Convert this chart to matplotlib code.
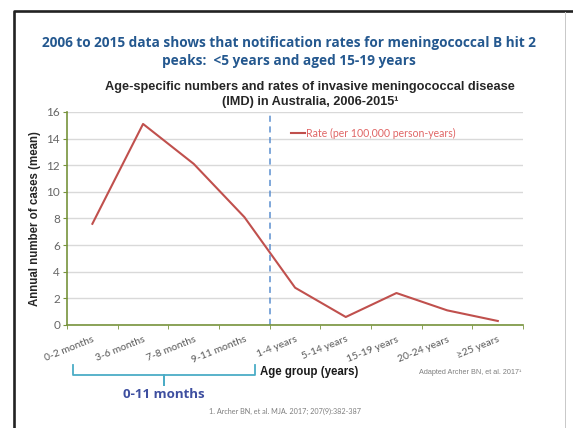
import matplotlib
matplotlib.use("Agg")
import matplotlib.pyplot as plt
import numpy as np
from matplotlib.lines import Line2D

# mean annual cases by age group
age_groups = ["0-2 months", "3-6 months", "7-8 months", "9-11 months", "1-4 years",
              "5-14 years", "15-19 years", "20-24 years", "\u226525 years"]
rate = [7.6, 15.1, 12.1, 8.1, 2.8, 0.6, 2.4, 1.1, 0.3]
y_ticks = [0, 2, 4, 6, 8, 10, 12, 14, 16]

red = "#C0504D"
olive = "#77933C"
grey = "#595959"

fig = plt.figure(figsize=(5.73, 4.28), dpi=100)
ax = fig.add_axes([0.117, 0.2407, 0.796, 0.4977])

x = np.arange(len(age_groups))
ax.plot(x, rate, color=red, lw=1.5, label="Rate (per 100,000 person-years)")
ax.axvline(3.5, color="#5B8FD0", lw=1.1, ls=(0, (4, 3)))

ax.set_xlim(-0.5, len(age_groups) - 0.5)
ax.set_ylim(0, 16)
ax.set_yticks(y_ticks)
ax.yaxis.grid(True, color="#D9D9D9", lw=1)
ax.set_axisbelow(True)
ax.set_xticks(x)
ax.set_xticks(np.arange(-0.5, len(age_groups)), minor=True)
ax.set_xticklabels(age_groups, rotation=22, ha="right", rotation_mode="anchor",
                   fontsize=7.5, color=grey, family="Lato")
ax.tick_params(axis="x", which="major", length=0, pad=7)
ax.tick_params(axis="x", which="minor", length=3, color=olive)
ax.tick_params(axis="y", length=3, color=olive, labelsize=8.5, labelcolor="#666666", pad=2)
for lab in ax.get_yticklabels():
    lab.set_family("Lato")
for s in ["top", "right"]:
    ax.spines[s].set_visible(False)
for s in ["left", "bottom"]:
    ax.spines[s].set_color(olive)
    ax.spines[s].set_linewidth(1.2)

ax.set_ylabel("Annual number of cases (mean)", fontsize=8.3, fontweight="bold",
              family="Liberation Sans", color="#262626", labelpad=4)

leg = ax.legend(loc="upper left", bbox_to_anchor=(0.47, 0.97), frameon=False,
                handlelength=1.3, handletextpad=0.1,
                prop={"family": "Lato", "size": 7.6})
for t in leg.get_texts():
    t.set_color("#E06666")

# overlay in pixel coordinates for frame, brace and notes
ov = fig.add_axes([0, 0, 1, 1], zorder=-1)
ov.set_xlim(0, 573)
ov.set_ylim(428, 0)
ov.axis("off")
ov.add_line(Line2D([14, 14, 573], [428, 11, 11], color="#222222", lw=1.9))
ov.add_line(Line2D([565, 565], [12, 428], color="#C8C8C8", lw=0.7))

title_kw = dict(ha="center", va="center", fontsize=9.8, fontweight="bold",
                color="#24588F", family="Open Sans")
ov.text(289, 43, "2006 to 2015 data shows that notification rates for meningococcal B hit 2",
        **title_kw)
ov.text(289, 61, "peaks:  <5 years and aged 15-19 years", **title_kw)

sub_kw = dict(ha="center", va="center", fontsize=9.2, fontweight="bold",
              color="#262626", family="Liberation Sans")
ov.text(310, 87, "Age-specific numbers and rates of invasive meningococcal disease", **sub_kw)
ov.text(310, 102, "(IMD) in Australia, 2006-2015\u00b9", **sub_kw)

# bracket under the infant age groups
bx = [73, 73, 162, 164, 164, 164, 166, 255, 255]
by = [365, 375, 375, 375, 385, 375, 375, 375, 365]
ov.plot(bx, by, color="#4BACC6", lw=1.3)
ov.text(164, 394, "0-11 months", ha="center", va="center", fontsize=9.5,
        fontweight="bold", color="#3E4FA0", family="Open Sans")
ov.text(260, 372, "Age group (years)", ha="left", va="center", fontsize=8.3,
        fontweight="bold", color="#1A1A1A", family="Liberation Sans")
ov.text(521, 372, "Adapted Archer BN, et al. 2017\u00b9", ha="right", va="center",
        fontsize=5.2, color="#7F7F7F", family="Liberation Sans")
ov.text(285, 411, "1. Archer BN, et al. MJA. 2017; 207(9):382-387", ha="center",
        va="center", fontsize=5.2, color="#7F7F7F", family="Lato")

fig.savefig("out.png", dpi=100)
